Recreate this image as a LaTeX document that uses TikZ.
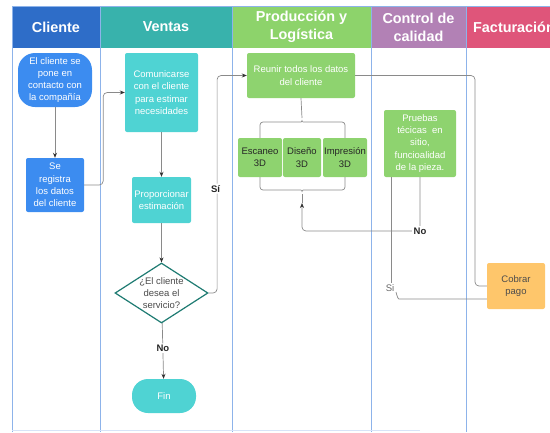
\documentclass[tikz,border=0pt]{standalone}
\usepackage{fontspec}
\setmainfont{Liberation Sans}
\usetikzlibrary{shapes.geometric,arrows.meta}

\definecolor{hdrCli}{HTML}{2E6DC8}
\definecolor{hdrVen}{HTML}{38B2AC}
\definecolor{hdrPro}{HTML}{8DD36B}
\definecolor{hdrCal}{HTML}{B281B5}
\definecolor{hdrFac}{HTML}{DF557A}
\definecolor{cliNode}{HTML}{3C8CF0}
\definecolor{venNode}{HTML}{4FD3D3}
\definecolor{proNode}{HTML}{8ED36F}
\definecolor{facNode}{HTML}{FEC66B}
\definecolor{decLine}{HTML}{1E7B72}
\definecolor{laneLine}{HTML}{8DB3EA}
\definecolor{connLine}{HTML}{8A8A8A}

\begin{document}
\begin{tikzpicture}[x=1pt,y=-1pt,
  lane/.style={draw=laneLine, line width=0.9pt},
  hdr/.style={fill=#1, draw=none, text=white, inner sep=0pt,
    font=\fontsize{14.4}{18}\selectfont\bfseries, align=center, minimum height=42},
  box/.style={fill=#1, draw=none, rounded corners=2pt, text=white, inner sep=1pt,
    font=\fontsize{9.5}{12.3}\selectfont, align=center},
  decision/.style={diamond, draw=decLine, line width=1.2pt, fill=white, inner sep=0pt},
  conn/.style={draw=connLine, line width=0.7pt, rounded corners=4pt},
  arr/.style={-{Stealth[length=5pt,width=4pt,color=black!80]}},
  lbl/.style={fill=white, inner sep=1.5pt, text=black!85,
    font=\fontsize{9.5}{11}\selectfont\bfseries},
]
\useasboundingbox (0,0) rectangle (550,432);
\clip (0,0) rectangle (550,432);

% swimlane headers
\node[hdr=hdrCli, minimum width=88] (h1) at (56,27) {Cliente};
\node[hdr=hdrVen, minimum width=132] (h2) at (166,27) {Ventas};
\node[hdr=hdrPro, minimum width=139] (h3) at (301.5,27) {Producción y\\Logística};
\node[hdr=hdrCal, minimum width=95] (h4) at (418.5,27) {Control de\\calidad};
\node[hdr=hdrFac, minimum width=96] (h5) at (514,27) {Facturación};

% lane separators and outer frame
\draw[lane, line width=0.7pt] (12,6) -- (550,6);
\foreach \lx in {12,100,232,371,466}
  \draw[lane] (\lx,6) -- (\lx,432);
\draw[draw=laneLine!35, line width=0.6pt] (12,430.5) -- (420,430.5);

% Cliente
\node[box=cliNode, rounded corners=17pt, minimum width=74, minimum height=54] (start) at (55,80)
  {El cliente se\\pone en\\contacto con\\la compañía};
\node[box=cliNode, minimum width=58, minimum height=54] (reg) at (55,185)
  {Se\\registra\\los datos\\del cliente};

% Ventas
\node[box=venNode, minimum width=73, minimum height=79] (com) at (161.5,92.5)
  {Comunicarse\\con el cliente\\para estimar\\necesidades};
\node[box=venNode, minimum width=59, minimum height=46] (prop) at (161.5,200)
  {Proporcionar\\estimación};
\node[decision, minimum width=93, minimum height=60] (dec) at (161.5,293) {};
\node[inner sep=0pt, text=black!70, font=\fontsize{9.5}{12.3}\selectfont, align=center]
  (dect) at (dec.center) {¿El cliente\\desea el\\servicio?};
\node[box=venNode, rounded corners=16pt, minimum width=64, minimum height=34] (fin) at (164,396) {Fin};

% Producción y Logística
\node[box=proNode, minimum width=108, minimum height=45] (reunir) at (301,75.5)
  {Reunir todos los datos\\del cliente};
\node[box=proNode, text=black!85, minimum width=44, minimum height=39] (esc) at (260,157.5) {Escaneo\\3D};
\node[box=proNode, text=black!85, minimum width=38, minimum height=39] (dis) at (302,157.5) {Diseño\\3D};
\node[box=proNode, text=black!85, minimum width=44, minimum height=39] (imp) at (345,157.5) {Impresión\\3D};

% Control de calidad
\node[box=proNode, minimum width=72, minimum height=67] (pru) at (420,143.5)
  {Pruebas\\técicas~ en\\sitio,\\funcioalidad\\de la pieza.};

% Facturación
\node[box=facNode, text=black!70, minimum width=58, minimum height=46] (cob) at (516,286)
  {Cobrar\\pago};

% flow connectors
\draw[conn, arr] (start) -- (reg);
\draw[conn, arr] (reg.east) -- ++(19,0) |- (com.west);
\draw[conn, arr] (com) -- (prop);
\draw[conn, arr] (prop) -- (dec);
\draw[conn, arr] (dec) -- node[lbl, pos=0.45] {No} (fin);
\draw[conn, arr] (dec.east) -- ++(8.5,0) |- node[lbl, pos=0.24, xshift=-1.5pt] {Sí} (reunir.west);

% fork into the three production steps
\draw[conn, rounded corners=3pt] (esc.north) |- (298,122) .. controls (301,122) and (302,121) .. (302,118)
  .. controls (302,121) and (303,122) .. (306,122) -| (imp.north);
\draw[conn] (reunir.south) -- (302,118);
\draw[conn, rounded corners=3pt] (esc.south) |- (298,190) .. controls (301,190) and (302,191) .. (302,194)
  .. controls (302,191) and (303,190) .. (306,190) -| (imp.south);
\coordinate (joinEnd) at (302,203);
\draw[conn] (302,194) -- (joinEnd);

% quality check results
\draw[conn, arr] (pru.south) |- node[lbl, pos=0.5] {No} (302,231) -- (joinEnd);
\coordinate (siTop) at ([xshift=-29pt]pru.south);
\draw[conn] (siTop) -- (391,283);
\node[inner sep=0pt, text=black!60, font=\fontsize{9.5}{11}\selectfont] (si) at (390,288.5) {Si};
\draw[conn] (396,292) .. controls (397,296) and (398,299) .. (403,299) -- ([yshift=-13pt]cob.west);
\draw[conn] (reunir.east) -| (475,286) -- (cob.west);

\end{tikzpicture}
\end{document}
